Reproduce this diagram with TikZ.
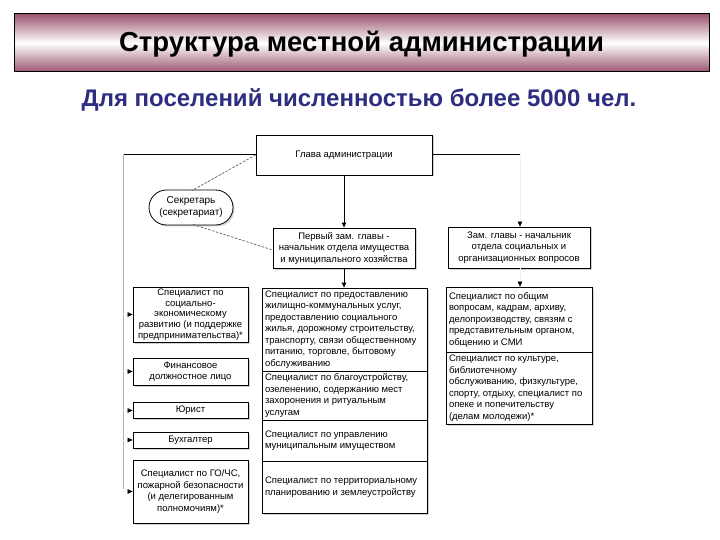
\documentclass[tikz,border=0pt]{standalone}
\usepackage{fontspec}
\setmainfont{Liberation Sans}
\usetikzlibrary{arrows.meta,shadows,shapes.misc}
\definecolor{mauve}{HTML}{9A5470}
\definecolor{subblue}{HTML}{2E2E80}
\tikzset{
  box/.style={draw=black, line width=0.8pt, fill=white, inner sep=0pt, anchor=center,
    font=\fontsize{9.5}{11.5}\selectfont, align=center,
    drop shadow={shadow xshift=1.5pt, shadow yshift=-1.5pt, opacity=0.35, fill=gray}},
  lbox/.style={box, align=left, text badly ragged},
  conn/.style={line width=0.9pt, -{Triangle[length=5pt,width=4.5pt]}},
  faint/.style={draw=gray!12, line width=0.6pt, -{Triangle[length=5pt,width=4.5pt,color=black]}},
  dashline/.style={draw=black!70, line width=0.6pt, dash pattern=on 2.5pt off 1.5pt},
}
\begin{document}
\begin{tikzpicture}[x=1pt,y=-1pt]
\useasboundingbox (0,0) rectangle (720,540);
\fill[white] (0,0) rectangle (720,540);
% title banner
\shade[top color=mauve, bottom color=mauve, middle color=white] (14,14) rectangle (709,72);
\draw[line width=1pt] (14,14) rectangle (709,72);
\node[font=\fontsize{27.5}{30}\selectfont\bfseries] (title) at (361.5,44) {Структура местной администрации};
\node[font=\fontsize{24}{28}\selectfont\bfseries, text=subblue] (subtitle) at (359,100) {Для поселений численностью более 5000 чел.};

% head
\node[box, minimum width=176pt, minimum height=40pt] (glava) at (344,155) {Глава администрации};
\node[box, rounded rectangle, minimum width=84pt, minimum height=35pt, font=\fontsize{10}{12}\selectfont] (secr) at (191,207.5) {Секретарь\\(секретариат)};
\node[box, minimum width=142pt, minimum height=40pt] (dep1) at (344,248) {Первый зам. главы -\\начальник отдела имущества\\и муниципального хозяйства};
\node[box, minimum width=142pt, minimum height=41pt] (dep2) at (519,247.5) {Зам. главы - начальник\\отдела социальных и\\организационных вопросов};

% middle column
\node[lbox, minimum width=165pt, text width=159pt, minimum height=83pt] (m1) at (344.5,329.5) {Специалист по предоставлению\\жилищно-коммунальных услуг,\\предоставлению социального\\жилья, дорожному строительству,\\транспорту, связи общественному\\питанию, торговле, бытовому\\обслуживанию};
\node[lbox, minimum width=165pt, text width=159pt, minimum height=49pt] (m2) at (344.5,395.5) {Специалист по благоустройству,\\озеленению, содержанию мест\\захоронения и ритуальным\\услугам};
\node[lbox, minimum width=165pt, text width=159pt, minimum height=41pt] (m3) at (344.5,440.5) {Специалист по управлению\\муниципальным имуществом};
\node[lbox, minimum width=165pt, text width=159pt, minimum height=52pt] (m4) at (344.5,487) {Специалист по территориальному\\планированию и землеустройству};

% right column
\node[lbox, minimum width=146pt, text width=140pt, minimum height=65pt] (r1) at (519,319.5) {Специалист по общим\\вопросам, кадрам, архиву,\\делопроизводству, связям с\\представительным органом,\\общению и СМИ};
\node[lbox, minimum width=146pt, text width=140pt, minimum height=72pt] (r2) at (519,388) {Специалист по культуре,\\библиотечному\\обслуживанию, физкультуре,\\спорту, отдыху, специалист по\\опеке и попечительству\\(делам молодежи)*};

% left column
\node[box, minimum width=115pt, minimum height=55pt, font=\fontsize{9.5}{10.6}\selectfont] (l1) at (190.5,314.5) {Специалист по\\социально-\\экономическому\\развитию (и поддержке\\предпринимательства)*};
\node[box, minimum width=115pt, minimum height=27pt] (l2) at (190.5,371.5) {Финансовое\\должностное лицо};
\node[box, minimum width=115pt, minimum height=16pt] (l3) at (190.5,410.5) {Юрист};
\node[box, minimum width=115pt, minimum height=16pt] (l4) at (190.5,440) {Бухгалтер};
\node[box, minimum width=115pt, minimum height=63pt] (l5) at (190.5,491.5) {Специалист по ГО/ЧС,\\пожарной безопасности\\(и делегированным\\полномочиям)*};

% connectors
\coordinate (lt) at (123,154);
\coordinate (lb) at (123,489);
\coordinate (rt) at (520,154);
\coordinate (cx) at (344,0);
\draw[line width=0.9pt] (glava.west |- lt) -- (lt);
\draw[draw=gray!60, line width=0.5pt] (lt) -- (lb);
\draw[line width=0.9pt] (glava.east |- rt) -- (rt);
\draw[faint] (rt) -- (rt |- dep2.north);
\draw[conn] (cx |- glava.south) -- (cx |- dep1.north);
\draw[conn] (cx |- dep1.south) -- (cx |- m1.north);
\draw[faint] (rt |- dep2.south) -- (rt |- r1.north);
\foreach \n in {l1,l2,l3,l4,l5} {
  \draw[faint] (lt |- \n.west) -- (\n.west);
}
\draw[dashline] (glava.west |- 0,155) -- (192,190.5);
\draw[dashline] (193,224.5) -- (dep1.west |- 0,250);
\end{tikzpicture}
\end{document}
